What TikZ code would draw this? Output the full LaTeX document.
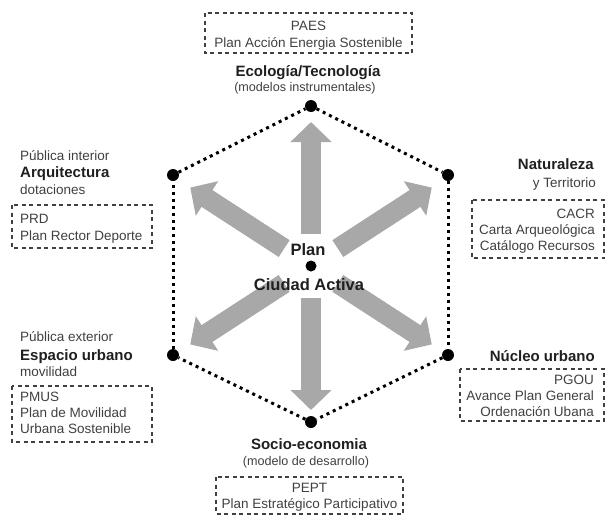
\documentclass[tikz,border=0pt]{standalone}
\usepackage{fontspec}
\setmainfont{Liberation Sans}
\usetikzlibrary{arrows.meta,calc}
\definecolor{arrgray}{gray}{0.66}
\definecolor{txt}{gray}{0.25}
\definecolor{txtb}{gray}{0.12}
\tikzset{
  garrow/.style={line width=20pt, draw=arrgray, -{Triangle[length=20pt,width=40pt]}},
  hexline/.style={line width=3pt, dash pattern=on 3pt off 4pt, draw=black},
  vdot/.style={circle, fill=black, inner sep=0pt, minimum size=12pt},
  plainlbl/.style={inner sep=0pt, text=txt, font=\fontsize{13.5}{16}\selectfont},
  boldlbl/.style={inner sep=0pt, text=txtb, font=\fontsize{15}{18}\bfseries},
  centerlbl/.style={inner sep=0pt, text=txtb, font=\fontsize{16.5}{19}\bfseries},
  planbox/.style={draw=black!75, line width=1.1pt, dash pattern=on 4pt off 3.5pt},
}
\begin{document}
\begin{tikzpicture}[x=1pt,y=-1pt]
\useasboundingbox (0,0) rectangle (606,517);
% centre
\coordinate (c) at (311,266);
% arrows
\foreach \ang/\nm in {-90/t, 90/b, -147/ul, -33/ur, 147/ll, 33/lr}{
  \coordinate (s\nm) at ($(c)+(\ang:32)$);
  \coordinate (e\nm) at ($(c)+(\ang:144)$);
  \draw[garrow] (s\nm) -- (e\nm);
}
% hexagon
\node[vdot] (vT) at (311,106) {};
\node[vdot] (vUR) at (448,175) {};
\node[vdot] (vLR) at (448,355) {};
\node[vdot] (vB) at (311,422) {};
\node[vdot] (vLL) at (173,355) {};
\node[vdot] (vUL) at (173,175) {};
\node[vdot, minimum size=11pt] (vC) at (c) {};
\draw[hexline] (vT) -- (vUR);
\draw[hexline] (vUR) -- (vLR);
\draw[hexline] (vLR) -- (vB);
\draw[hexline] (vB) -- (vLL);
\draw[hexline] (vLL) -- (vUL);
\draw[hexline] (vUL) -- (vT);
% centre text
\node[centerlbl, anchor=base] (plan) at (308,255) {Plan};
\node[centerlbl, anchor=base] (ciudad) at (309,290) {Ciudad Activa};
% top
\draw[planbox] (205,13) rectangle (412,53);
\node[plainlbl, anchor=base] (paes) at (308.5,30) {PAES};
\node[plainlbl, anchor=base] (paes2) at (308.5,47) {Plan Acción Energia Sostenible};
\node[boldlbl, anchor=base] (eco) at (308,76) {Ecología/Tecnología};
\node[plainlbl, anchor=base, font=\fontsize{12.6}{15}\selectfont] (eco2) at (305,91) {(modelos instrumentales)};
% upper left
\node[plainlbl, anchor=base west] (pubi) at (20,160) {Pública interior};
\node[boldlbl, anchor=base west] (arq) at (20,177) {Arquitectura};
\node[plainlbl, anchor=base west] (dot) at (20,194) {dotaciones};
\draw[planbox] (12,205) rectangle (152,248);
\node[plainlbl, anchor=base west] (prd) at (20,223) {PRD};
\node[plainlbl, anchor=base west] (prd2) at (20,240) {Plan Rector Deporte};
% upper right
\node[boldlbl, anchor=base east] (nat) at (594,169) {Naturaleza};
\node[plainlbl, anchor=base east] (nat2) at (596,187) {y Territorio};
\draw[planbox] (472,200) rectangle (604,258);
\node[plainlbl, anchor=base east] (cacr) at (595,218) {CACR};
\node[plainlbl, anchor=base east] (cacr2) at (595,234) {Carta Arqueológica};
\node[plainlbl, anchor=base east] (cacr3) at (595,250) {Catálogo Recursos};
% lower left
\node[plainlbl, anchor=base west] (pube) at (20,341) {Pública exterior};
\node[boldlbl, anchor=base west] (esp) at (20,360) {Espacio urbano};
\node[plainlbl, anchor=base west] (mov) at (20,376) {movilidad};
\draw[planbox] (12,386) rectangle (152,442);
\node[plainlbl, anchor=base west] (pmus) at (20,401) {PMUS};
\node[plainlbl, anchor=base west] (pmus2) at (20,417) {Plan de Movilidad};
\node[plainlbl, anchor=base west] (pmus3) at (20,433) {Urbana Sostenible};
% lower right
\node[boldlbl, anchor=base east] (nuc) at (595,361) {Núcleo urbano};
\draw[planbox] (460,369) rectangle (604,421);
\node[plainlbl, anchor=base east] (pgou) at (594,384) {PGOU};
\node[plainlbl, anchor=base east] (pgou2) at (594,400) {Avance Plan General};
\node[plainlbl, anchor=base east] (pgou3) at (594,416) {Ordenación Ubana};
% bottom
\node[boldlbl, anchor=base] (soc) at (309,449) {Socio-economia};
\node[plainlbl, anchor=base, font=\fontsize{12.6}{15}\selectfont] (soc2) at (306,465) {(modelo de desarrollo)};
\draw[planbox] (216,477) rectangle (403,514);
\node[plainlbl, anchor=base] (pept) at (309.5,492) {PEPT};
\node[plainlbl, anchor=base] (pept2) at (309.5,508) {Plan Estratégico Participativo};
\end{tikzpicture}
\end{document}
